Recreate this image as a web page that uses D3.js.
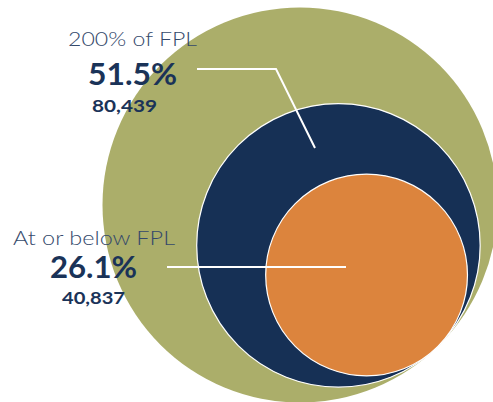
<!DOCTYPE html>
<html>
<head>
<meta charset="utf-8">
<script src="https://cdn.jsdelivr.net/npm/d3@7"></script>
<style>
  html, body { margin: 0; padding: 0; background: #fff; }
  svg { display: block; font-family: Lato, "Open Sans", sans-serif; }
</style>
</head>
<body>
<div id="chart"></div>
<script>
const width = 493;
const height = 402;

// data
const groups = ["All", "200% of FPL", "At or below FPL"];
const shares = [1, 0.515, 0.261];
const counts = [null, 80439, 40837];
const fills = ["#abae6a", "#163055", "#dc843d"];

const svg = d3.select("#chart")
  .append("svg")
  .attr("width", width)
  .attr("height", height);

// outer circle placement, inner circles sit tangent toward bottom-right
const outer = { cx: 300, cy: 205, r: 197.5 };
const angle = Math.atan2(41, 39);

const rScale = d3.scaleSqrt().domain([0, 1]).range([0, outer.r]);

const circles = groups.map((g, i) => {
  const r = rScale(shares[i]);
  const off = outer.r - r;
  return {
    name: g,
    r: r,
    cx: outer.cx + off * Math.cos(angle),
    cy: outer.cy + off * Math.sin(angle),
    fill: fills[i]
  };
});

svg.selectAll("circle")
  .data(circles)
  .join("circle")
  .attr("cx", d => d.cx)
  .attr("cy", d => d.cy)
  .attr("r", d => d.r)
  .attr("fill", d => d.fill)
  .attr("stroke", (d, i) => i === 0 ? "none" : "#ffffff")
  .attr("stroke-width", 1.2);

// leader lines
svg.append("polyline")
  .attr("points", "197,69 276,69 315,148")
  .attr("fill", "none")
  .attr("stroke", "#fff")
  .attr("stroke-width", 2);

svg.append("line")
  .attr("x1", 167).attr("y1", 267)
  .attr("x2", 346).attr("y2", 267)
  .attr("stroke", "#fff")
  .attr("stroke-width", 2);

// labels
const fmt = d3.format(",");
const pct = d3.format(".1%");
const labels = [
  { i: 1, y: [46, 84.5, 111.5], xs: [132.5, 132.5, 124.5], w: [129, 89, 65] },
  { i: 2, y: [245, 278, 304], xs: [94, 93.5, 93.5], w: [162, 87, 63] }
];

labels.forEach(l => {
  const g = svg.append("g").attr("fill", "#1a3358");
  g.append("text")
    .attr("x", l.xs[0]).attr("y", l.y[0])
    .attr("text-anchor", "middle")
    .attr("font-size", "19px")
    .attr("font-weight", 300)
    .attr("fill", "#34496b")
    .attr("textLength", l.w[0])
    .attr("lengthAdjust", "spacingAndGlyphs")
    .text(groups[l.i]);
  g.append("text")
    .attr("x", l.xs[1]).attr("y", l.y[1])
    .attr("text-anchor", "middle")
    .attr("font-size", "30px")
    .attr("font-weight", 700)
    .attr("textLength", l.w[1])
    .attr("lengthAdjust", "spacingAndGlyphs")
    .text(pct(shares[l.i]));
  g.append("text")
    .attr("x", l.xs[2]).attr("y", l.y[2])
    .attr("text-anchor", "middle")
    .attr("font-size", "17px")
    .attr("font-weight", 700)
    .attr("textLength", l.w[2])
    .attr("lengthAdjust", "spacingAndGlyphs")
    .text(fmt(counts[l.i]));
});
</script>
</body>
</html>
